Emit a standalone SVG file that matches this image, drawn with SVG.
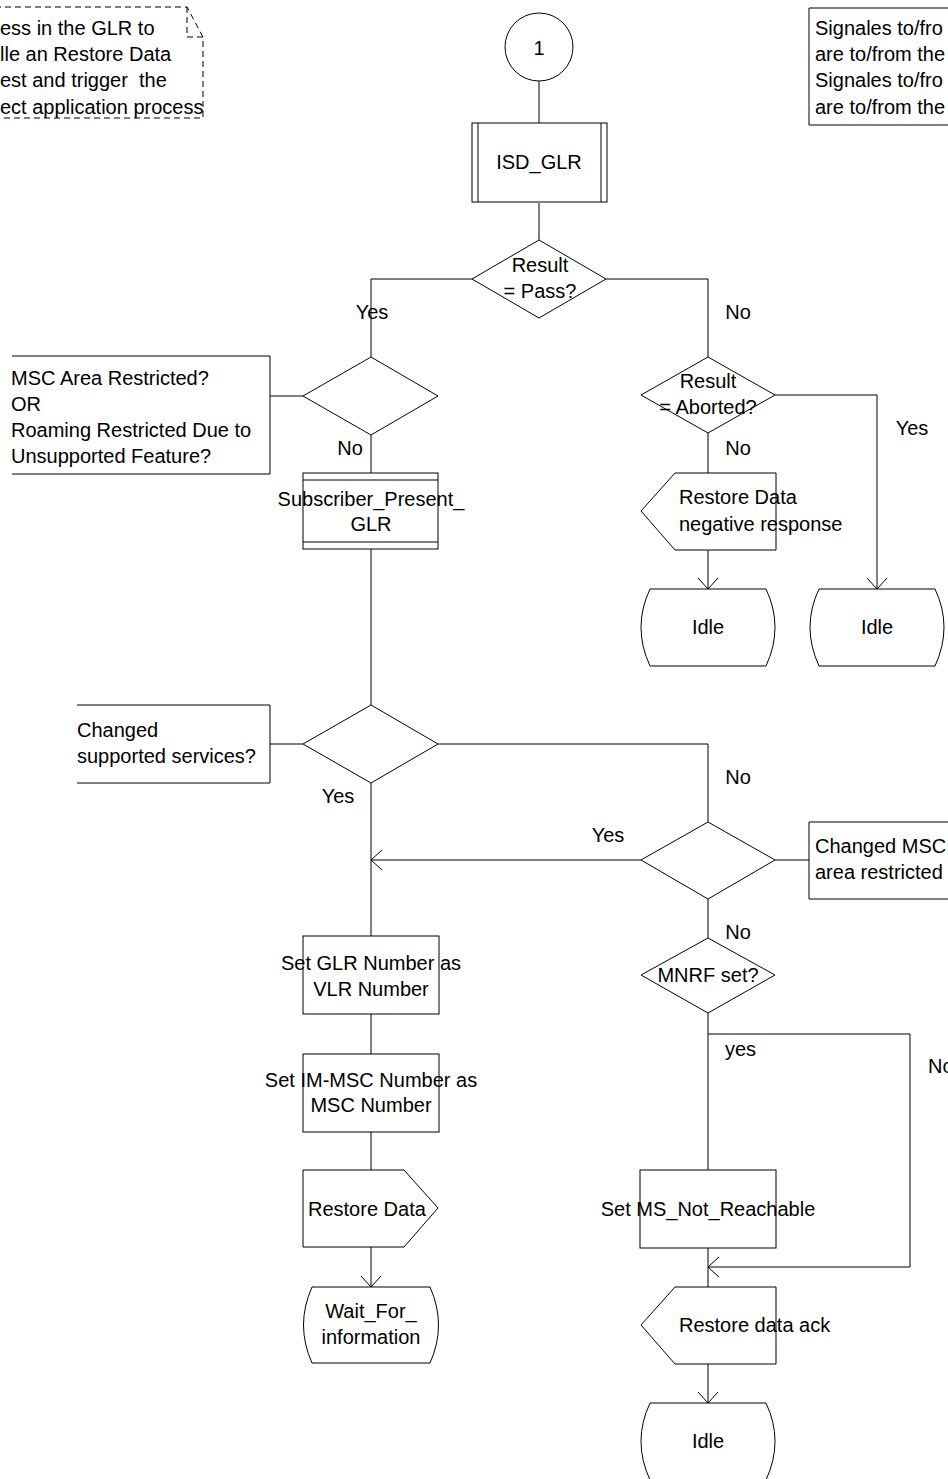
<svg xmlns="http://www.w3.org/2000/svg" width="948" height="1479" viewBox="0 0 948 1479">
<defs>
<style>
.s{fill:#fff;stroke:#000;stroke-width:1}
.n{fill:none;stroke:#000;stroke-width:1}
.d{fill:none;stroke:#000;stroke-width:1;stroke-dasharray:6,4}
text{font-family:"Liberation Sans",Arial,sans-serif;font-size:20px;fill:#000}
.c{text-anchor:middle}
</style>
<marker id="ar" viewBox="0 0 12 22" refX="11" refY="11" markerWidth="12" markerHeight="22" markerUnits="userSpaceOnUse" orient="auto">
<path d="M0,1 L11,11 L0,21" fill="none" stroke="#000" stroke-width="1"/>
</marker>
</defs>
<rect width="948" height="1479" fill="#fff"/>

<g id="connectors">
<path class="n" d="M539,81 V123"/>
<path class="n" d="M539,203 V240"/>
<path class="n" d="M472,279 H371 V357"/>
<path class="n" d="M606,279 H708 V357"/>
<path class="n" d="M303,396 H270"/>
<path class="n" d="M371,435 V473"/>
<path class="n" d="M775,395 H877 V589" marker-end="url(#ar)"/>
<path class="n" d="M708,433 V473"/>
<path class="n" d="M708,550 V589" marker-end="url(#ar)"/>
<path class="n" d="M371,549 V705"/>
<path class="n" d="M303,744 H270"/>
<path class="n" d="M438,744 H708 V822"/>
<path class="n" d="M775,860 H809"/>
<path class="n" d="M641,860 H371" marker-end="url(#ar)"/>
<path class="n" d="M371,783 V936"/>
<path class="n" d="M371,1014 V1054"/>
<path class="n" d="M371,1132 V1170"/>
<path class="n" d="M371,1247 V1287" marker-end="url(#ar)"/>
<path class="n" d="M708,899 V938"/>
<path class="n" d="M708,1013 V1170"/>
<path class="n" d="M708,1034 H910 V1267 H708" marker-end="url(#ar)"/>
<path class="n" d="M708,1248 V1287"/>
<path class="n" d="M708,1364 V1403" marker-end="url(#ar)"/>
</g>

<g id="labels">
<text class="c" x="372" y="319">Yes</text>
<text class="c" x="738" y="319">No</text>
<text class="c" x="350" y="455">No</text>
<text class="c" x="738" y="455">No</text>
<text class="c" x="912" y="435">Yes</text>
<text class="c" x="738" y="784">No</text>
<text class="c" x="338" y="803">Yes</text>
<text class="c" x="608" y="842">Yes</text>
<text class="c" x="738" y="939">No</text>
<text x="725" y="1056">yes</text>
<text x="928" y="1073">No</text>
</g>

<g id="note-process">
<path class="d" d="M-5,7 H187 L203,37 V118 H-5"/>
<path class="d" d="M187,7 V37 H203"/>
<text x="0" y="35">ess in the GLR to</text>
<text x="0" y="61">lle an Restore Data</text>
<text x="0" y="87" xml:space="preserve">est and trigger  the</text>
<text x="0" y="114">ect application process</text>
</g>

<g id="note-signals">
<path class="s" d="M960,8 H809 V125 H960"/>
<text x="815" y="35">Signales to/fro</text>
<text x="815" y="61">are to/from the</text>
<text x="815" y="87">Signales to/fro</text>
<text x="815" y="114">are to/from the</text>
</g>

<g id="start">
<circle class="s" cx="539" cy="47" r="34"/>
<text class="c" x="539" y="55">1</text>
</g>

<g id="isd-glr">
<rect class="s" x="472" y="123" width="135" height="79"/>
<path class="n" d="M478,123 V202 M601,123 V202"/>
<text class="c" x="539" y="169">ISD_GLR</text>
</g>

<g id="dec-pass">
<polygon class="s" points="539,240 606,279 539,318 472,279"/>
<text class="c" x="540" y="272">Result</text>
<text class="c" x="540" y="298">= Pass?</text>
</g>

<g id="dec-restricted">
<polygon class="s" points="371,357 438,396 371,435 303,396"/>
</g>
<g id="note-restricted">
<path class="s" d="M12,356 H270 V474 H12"/>
<text x="11" y="385">MSC Area Restricted?</text>
<text x="11" y="411">OR</text>
<text x="11" y="437">Roaming Restricted Due to</text>
<text x="11" y="463">Unsupported Feature?</text>
</g>

<g id="dec-aborted">
<polygon class="s" points="708,357 775,395 708,433 641,395"/>
<text class="c" x="708" y="388">Result</text>
<text class="c" x="708" y="414">= Aborted?</text>
</g>

<g id="sub-present">
<rect class="s" x="303" y="473" width="135" height="76"/>
<path class="n" d="M303,480 H438 M303,542 H438"/>
<text class="c" x="371" y="506">Subscriber_Present_</text>
<text class="c" x="371" y="531">GLR</text>
</g>

<g id="in-negative">
<polygon class="s" points="675,473 776,473 776,550 675,550 641,511"/>
<text x="679" y="504">Restore Data</text>
<text x="679" y="531">negative response</text>
</g>

<g id="idle1">
<path class="s" d="M650,589 H766 Q784,627 766,666 H650 Q632,627 650,589 Z"/>
<text class="c" x="708" y="634">Idle</text>
</g>

<g id="idle2">
<path class="s" d="M819,589 H935 Q953,627 935,666 H819 Q801,627 819,589 Z"/>
<text class="c" x="877" y="634">Idle</text>
</g>

<g id="dec-services">
<polygon class="s" points="371,705 438,744 371,783 303,744"/>
</g>
<g id="note-services">
<path class="s" d="M77,705 H270 V783 H77"/>
<text x="77" y="737">Changed</text>
<text x="77" y="763">supported services?</text>
</g>

<g id="dec-msc">
<polygon class="s" points="708,822 775,860 708,899 641,860"/>
</g>
<g id="note-msc">
<path class="s" d="M960,822 H809 V899 H960"/>
<text x="815" y="853">Changed MSC</text>
<text x="815" y="879">area restricted</text>
</g>

<g id="dec-mnrf">
<polygon class="s" points="708,938 775,975 708,1013 641,975"/>
<text class="c" x="708" y="982">MNRF set?</text>
</g>

<g id="set-glr">
<rect class="s" x="303" y="936" width="136" height="78"/>
<text class="c" x="371" y="970">Set GLR Number as</text>
<text class="c" x="371" y="996">VLR Number</text>
</g>

<g id="set-immsc">
<rect class="s" x="303" y="1054" width="136" height="78"/>
<text class="c" x="371" y="1087">Set IM-MSC Number as</text>
<text class="c" x="371" y="1112">MSC Number</text>
</g>

<g id="out-restore">
<polygon class="s" points="303,1170 404,1170 438,1208 404,1247 303,1247"/>
<text x="308" y="1216">Restore Data</text>
</g>

<g id="wait-info">
<path class="s" d="M312,1287 H430 Q447,1325 430,1363 H312 Q295,1325 312,1287 Z"/>
<text class="c" x="371" y="1318">Wait_For_</text>
<text class="c" x="371" y="1344">information</text>
</g>

<g id="set-ms">
<rect class="s" x="640" y="1170" width="136" height="78"/>
<text class="c" x="708" y="1216">Set MS_Not_Reachable</text>
</g>

<g id="in-ack">
<polygon class="s" points="675,1287 776,1287 776,1364 675,1364 641,1325"/>
<text x="679" y="1332">Restore data ack</text>
</g>

<g id="idle3">
<path class="s" d="M650,1403 H766 Q784,1441 766,1480 H650 Q632,1441 650,1403 Z"/>
<text class="c" x="708" y="1448">Idle</text>
</g>
</svg>
